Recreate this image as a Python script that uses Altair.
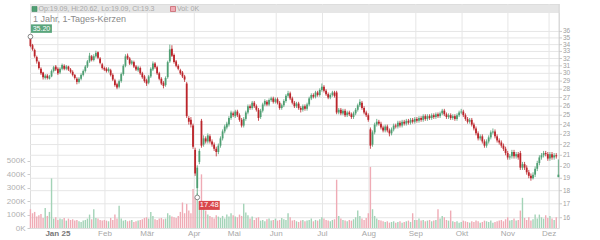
import altair as alt
import pandas as pd

# ---------------- data ----------------
open_ = [
    34.9, 33.9, 33.2, 32.2, 31.5, 30.6, 30.1, 29.4, 29.7, 29.3,
    29.6, 30.3, 30.9, 30.6, 30.1, 30.6, 31.0, 30.6, 30.9, 30.5,
    30.2, 29.8, 29.3, 28.9, 29.3, 29.8, 30.3, 30.9, 31.6, 32.3,
    31.8, 32.3, 32.9, 32.0, 31.2, 30.7, 30.6, 30.3, 30.4, 29.8,
    29.1, 28.6, 28.3, 29.0, 29.9, 31.0, 32.4, 32.0, 31.3, 31.5,
    30.9, 30.4, 30.7, 30.0, 29.6, 29.1, 28.8, 29.6, 30.5, 31.3,
    30.8, 30.0, 29.3, 28.8, 28.5, 29.5, 31.6, 33.4, 32.5, 31.6,
    31.0, 30.4, 30.1, 29.6, 28.7, 24.7, 24.5, 23.9, 21.5, 18.2,
    20.4, 24.4, 22.0, 22.6, 22.3, 22.8, 22.3, 22.0, 21.6, 21.3,
    21.9, 22.6, 23.3, 23.7, 24.0, 24.7, 25.2, 24.9, 25.4, 25.0,
    24.5, 23.9, 24.6, 25.3, 26.0, 25.8, 26.4, 26.0, 25.6, 24.8,
    25.5, 26.2, 26.5, 26.2, 26.7, 26.9, 26.5, 26.8, 26.4, 25.8,
    26.1, 26.6, 27.2, 27.5, 26.9, 26.4, 26.0, 26.3, 25.8, 25.6,
    26.0, 25.7, 26.2, 26.9, 27.3, 27.1, 27.6, 27.3, 27.9, 28.3,
    27.8, 27.4, 27.0, 27.3, 27.6, 27.6, 25.3, 25.6, 25.2, 25.5,
    25.0, 25.3, 25.1, 24.8, 25.2, 25.6, 26.1, 26.4, 25.8, 25.3,
    25.0, 23.5, 22.0, 23.2, 24.0, 24.3, 24.1, 23.7, 23.4, 23.8,
    23.4, 23.1, 23.5, 23.9, 23.8, 24.2, 23.9, 24.3, 24.1, 24.4,
    24.2, 24.5, 24.3, 24.6, 24.4, 24.7, 24.5, 24.9, 24.6, 24.9,
    24.7, 25.0, 24.8, 25.1, 24.9, 25.2, 25.5, 25.1, 24.8, 25.0,
    24.7, 24.9, 24.6, 25.0, 25.3, 25.4, 25.0, 24.6, 24.3, 24.5,
    24.0, 23.6, 23.1, 22.6, 22.8, 22.3, 21.9, 22.3, 22.7, 23.2,
    23.3, 22.8, 22.4, 22.2, 21.9, 21.6, 21.2, 20.8, 20.9, 21.3,
    20.9, 21.1, 21.2, 19.9, 20.2, 19.9, 19.5, 19.2, 19.0, 19.3,
    19.8, 20.3, 20.8, 21.0, 21.2, 21.1, 20.7, 21.1, 20.8, 21.0,
    19.09,
]
close = [
    33.8, 33.3, 32.3, 31.6, 30.7, 30.0, 29.5, 29.7, 29.4, 29.6,
    30.3, 30.8, 30.5, 30.0, 30.6, 31.1, 30.6, 30.9, 30.5, 30.2,
    29.8, 29.4, 28.9, 29.3, 29.8, 30.3, 30.9, 31.6, 32.4, 31.8,
    32.3, 32.8, 32.1, 31.4, 30.7, 30.5, 30.3, 30.6, 29.8, 29.2,
    28.5, 28.2, 29.0, 29.9, 31.0, 32.3, 32.0, 31.3, 31.6, 30.9,
    30.5, 30.8, 30.0, 29.5, 29.0, 28.7, 29.6, 30.6, 31.3, 30.8,
    30.0, 29.3, 28.7, 28.4, 29.4, 31.5, 33.3, 32.4, 31.5, 31.0,
    30.6, 30.0, 29.6, 29.2, 24.9, 24.3, 24.0, 21.8, 19.4, 19.9,
    21.4, 21.9, 22.6, 22.3, 22.9, 22.3, 22.0, 21.6, 21.3, 21.9,
    22.6, 23.3, 23.8, 24.1, 24.7, 25.3, 25.0, 25.4, 25.0, 24.5,
    23.9, 24.6, 25.3, 26.0, 25.8, 26.4, 26.0, 25.6, 24.7, 25.5,
    26.2, 26.6, 26.2, 26.7, 26.9, 26.5, 26.8, 26.4, 25.8, 26.1,
    26.6, 27.2, 27.5, 26.9, 26.4, 26.0, 26.3, 25.8, 25.6, 26.0,
    25.7, 26.2, 26.9, 27.3, 27.1, 27.6, 27.3, 27.9, 28.3, 27.8,
    27.4, 27.0, 27.3, 27.6, 27.2, 25.3, 25.6, 25.2, 25.5, 25.0,
    25.3, 25.1, 24.8, 25.2, 25.6, 26.1, 26.5, 25.8, 25.3, 25.0,
    24.5, 21.9, 23.2, 24.0, 24.3, 24.1, 23.7, 23.4, 23.8, 23.4,
    23.1, 23.5, 23.9, 23.8, 24.2, 23.9, 24.3, 24.1, 24.4, 24.2,
    24.5, 24.3, 24.6, 24.4, 24.7, 24.5, 24.9, 24.6, 24.9, 24.7,
    25.0, 24.8, 25.1, 24.9, 25.2, 25.5, 25.1, 24.8, 25.0, 24.7,
    24.9, 24.6, 25.0, 25.3, 25.4, 25.0, 24.6, 24.3, 24.5, 24.0,
    23.6, 23.1, 22.6, 22.8, 22.3, 21.9, 22.3, 22.7, 23.2, 23.3,
    22.8, 22.4, 22.2, 21.9, 21.6, 21.2, 20.8, 20.9, 21.3, 20.9,
    21.1, 20.8, 19.9, 20.2, 19.9, 19.5, 19.2, 19.0, 19.3, 19.8,
    20.3, 20.8, 21.0, 21.2, 21.1, 20.7, 21.1, 20.8, 21.0, 20.9,
    19.3,
]
high = [
    35.2, 34.1, 33.4, 32.4, 31.7, 30.8, 30.2, 29.9, 29.9, 29.8,
    30.5, 31.0, 31.1, 30.8, 30.8, 31.3, 31.2, 31.1, 31.0, 30.7,
    30.4, 29.9, 29.5, 29.5, 30.0, 30.5, 31.1, 31.8, 32.8, 32.5,
    32.6, 33.1, 33.0, 32.2, 31.4, 30.9, 30.8, 30.8, 30.6, 30.0,
    29.3, 28.8, 29.2, 30.1, 31.2, 32.6, 32.7, 32.2, 31.8, 31.7,
    31.1, 31.0, 30.9, 30.2, 29.8, 29.3, 29.8, 30.8, 31.6, 31.5,
    31.0, 30.2, 29.5, 29.0, 29.6, 31.7, 34.0, 33.9, 32.7, 31.8,
    31.2, 30.6, 30.3, 29.8, 28.9, 24.9, 24.8, 24.1, 21.7, 20.1,
    21.6, 24.6, 22.9, 22.8, 23.1, 23.0, 22.5, 22.2, 21.8, 22.1,
    22.8, 23.5, 24.0, 24.3, 24.9, 25.5, 25.4, 25.6, 25.6, 25.2,
    24.7, 24.8, 25.5, 26.2, 26.2, 26.6, 26.6, 26.2, 25.8, 25.7,
    26.4, 26.8, 26.7, 26.9, 27.1, 27.1, 27.0, 27.0, 26.6, 26.3,
    26.8, 27.4, 27.8, 27.7, 27.1, 26.6, 26.5, 26.5, 26.0, 26.2,
    26.2, 26.4, 27.1, 27.5, 27.5, 27.8, 27.8, 28.1, 28.7, 28.5,
    28.0, 27.6, 27.5, 27.8, 27.8, 27.8, 25.8, 25.8, 25.7, 25.7,
    25.5, 25.5, 25.3, 25.4, 25.8, 26.3, 26.8, 26.6, 26.0, 25.5,
    25.2, 23.7, 23.4, 24.2, 24.6, 24.5, 24.3, 23.9, 24.0, 24.0,
    23.6, 23.7, 24.1, 24.1, 24.4, 24.4, 24.5, 24.5, 24.6, 24.6,
    24.7, 24.7, 24.8, 24.8, 24.9, 24.9, 25.1, 25.1, 25.1, 25.1,
    25.2, 25.2, 25.3, 25.3, 25.4, 25.7, 25.7, 25.3, 25.2, 25.2,
    25.1, 25.1, 25.2, 25.5, 25.7, 25.6, 25.2, 24.8, 24.7, 24.7,
    24.2, 23.8, 23.3, 23.0, 23.0, 22.5, 22.5, 22.9, 23.4, 23.6,
    23.5, 23.0, 22.6, 22.4, 22.1, 21.8, 21.4, 21.1, 21.5, 21.5,
    21.3, 21.3, 21.4, 20.4, 20.4, 20.1, 19.7, 19.4, 19.5, 20.0,
    20.5, 21.0, 21.2, 21.4, 21.4, 21.3, 21.3, 21.3, 21.2, 21.2,
    20.62,
]
low = [
    33.6, 33.1, 32.1, 31.3, 30.5, 29.8, 29.2, 29.2, 29.2, 29.2,
    29.5, 30.1, 30.3, 29.8, 29.9, 30.4, 30.4, 30.4, 30.3, 30.0,
    29.6, 29.2, 28.6, 28.7, 29.1, 29.6, 30.1, 30.7, 31.4, 31.6,
    31.6, 32.1, 31.9, 31.2, 30.5, 30.3, 30.1, 30.1, 29.6, 29.0,
    28.3, 28.0, 28.1, 28.8, 29.7, 30.8, 31.8, 31.1, 31.1, 30.7,
    30.3, 30.2, 29.8, 29.3, 28.8, 28.4, 28.6, 29.4, 30.3, 30.6,
    29.8, 29.1, 28.5, 28.1, 28.3, 29.3, 31.4, 32.2, 31.3, 30.8,
    30.4, 29.8, 29.4, 28.9, 24.7, 24.0, 23.7, 21.6, 19.2, 17.48,
    20.2, 21.7, 21.8, 22.1, 22.1, 22.1, 21.8, 21.4, 20.9, 21.1,
    21.7, 22.4, 23.1, 23.5, 23.8, 24.5, 24.8, 24.7, 24.8, 24.3,
    23.7, 23.7, 24.4, 25.1, 25.6, 25.6, 25.8, 25.4, 24.4, 24.6,
    25.3, 26.0, 26.0, 26.0, 26.5, 26.3, 26.3, 26.2, 25.6, 25.6,
    25.9, 26.4, 27.0, 26.7, 26.2, 25.8, 25.8, 25.6, 25.3, 25.4,
    25.5, 25.5, 26.0, 26.7, 26.9, 26.9, 27.1, 27.1, 27.7, 27.6,
    27.2, 26.8, 26.8, 27.1, 27.0, 25.1, 25.1, 25.0, 25.0, 24.8,
    24.8, 24.9, 24.6, 24.6, 25.0, 25.4, 25.9, 25.6, 25.1, 24.8,
    24.3, 21.6, 21.8, 23.0, 23.8, 23.9, 23.5, 23.2, 23.2, 23.2,
    22.8, 22.9, 23.3, 23.6, 23.6, 23.7, 23.7, 23.9, 23.9, 24.0,
    24.0, 24.1, 24.1, 24.2, 24.2, 24.3, 24.3, 24.4, 24.4, 24.5,
    24.5, 24.6, 24.6, 24.7, 24.7, 25.0, 24.9, 24.6, 24.6, 24.5,
    24.5, 24.4, 24.4, 24.8, 25.1, 24.8, 24.4, 24.1, 24.1, 23.8,
    23.4, 22.9, 22.4, 22.4, 22.1, 21.7, 21.7, 22.1, 22.5, 23.0,
    22.6, 22.2, 22.0, 21.7, 21.4, 21.0, 20.6, 20.6, 20.7, 20.7,
    20.7, 20.6, 19.7, 19.7, 19.7, 19.3, 19.0, 18.8, 18.9, 19.1,
    19.6, 20.1, 20.6, 20.8, 20.9, 20.5, 20.5, 20.6, 20.6, 20.7,
    19.09,
]
volume_k = [
    140, 110, 120, 85, 95, 105, 75, 150, 90, 120,
    370, 70, 80, 60, 70, 65, 75, 55, 70, 60,
    65, 55, 60, 50, 45, 55, 60, 70, 100, 65,
    140, 75, 70, 60, 55, 60, 55, 50, 75, 60,
    100, 70, 165, 70, 55, 60, 50, 55, 60, 45,
    50, 55, 60, 65, 75, 80, 70, 120, 90, 65,
    60, 70, 75, 65, 70, 110, 95, 85, 80, 75,
    90, 120, 190, 110, 180, 130, 110, 290, 230, 260,
    200, 400, 150, 130, 100, 90, 80, 70, 95, 85,
    75, 90, 70, 100, 85, 110, 95, 85, 80, 100,
    90, 180, 115, 95, 70, 85, 60, 75, 80, 55,
    60, 50, 65, 70, 55, 60, 70, 55, 60, 75,
    65, 60, 110, 80, 55, 60, 50, 45, 55, 60,
    50, 55, 60, 70, 50, 60, 55, 65, 80, 70,
    60, 55, 50, 60, 65, 360, 90, 70, 60, 55,
    50, 60, 55, 65, 80, 130, 90, 70, 60, 75,
    110, 455, 140, 90, 70, 60, 55, 50, 45, 50,
    40, 45, 50, 40, 45, 50, 40, 45, 50, 55,
    45, 110, 60, 60, 70, 55, 60, 50, 55, 60,
    50, 55, 60, 140, 70, 90, 80, 60, 55, 130,
    50, 45, 50, 40, 45, 55, 50, 45, 40, 50,
    45, 55, 50, 40, 45, 55, 50, 45, 55, 40,
    45, 50, 55, 60, 50, 65, 80, 55, 60, 70,
    55, 60, 130, 225, 75, 60, 80, 55, 65, 100,
    70, 100, 80, 70, 95, 75, 90, 70, 60, 80,
    0,
]

month_labels = ["Jan 25", "Feb", "Mär", "Apr", "Mai", "Jun",
                "Jul", "Aug", "Sep", "Okt", "Nov", "Dez"]
month_pos = [13.0, 35.3, 55.3, 77.6, 96.5, 116.4,
             138.3, 160.3, 182.5, 204.4, 226.1, 245.6]
price_ticks = [16, 17, 18, 19, 20, 21, 22, 23, 24, 25, 26,
               27, 28, 29, 30, 31, 32, 33, 34, 35, 36]
volume_ticks = [0, 100000, 200000, 300000, 400000, 500000]

title_text = "1 Jahr, 1-Tages-Kerzen"
header_text = "Op:19.09, Hi:20.62, Lo:19.09, Cl:19.3"
volume_text = "Vol: 0K"

# ---------------- styling ----------------
FONT = "Liberation Sans"
UP = "#4f9f73"
DOWN = "#bb252b"
VUP = "#a3d3b7"
VDOWN = "#efabb5"
GRID = "#e6e6e6"
W, H = 529, 224
N = len(close)

df = pd.DataFrame({
    "idx": list(range(N)),
    "open": open_, "high": high, "low": low, "close": close,
    "vol": [v * 1000 for v in volume_k],
})
df["cdir"] = ["up" if c >= o else "down" for o, c in zip(open_, close)]
df["vdir"] = df["cdir"]

i_hi = high.index(max(high))
i_lo = low.index(min(low))
hi_df = pd.DataFrame({"idx": [i_hi], "price": [high[i_hi]], "label": ["%.2f" % high[i_hi]]})
lo_df = pd.DataFrame({"idx": [i_lo], "price": [low[i_lo]], "label": ["%.2f" % low[i_lo]]})
months = pd.DataFrame({"pos": month_pos, "label": month_labels})
pt_df = pd.DataFrame({"tick": price_ticks, "label": [str(t) for t in price_ticks]})
one = pd.DataFrame({"k": [0]})

xscale = alt.Scale(domain=[-0.2, N - 0.7], nice=False, zero=False, padding=0)
pscale = alt.Scale(type="log", domain=[15.3, 40.57], nice=False, zero=False, padding=0)
vscale = alt.Scale(domain=[0, 1670000], nice=False, padding=0)


def X(field):
    return alt.X(field, scale=xscale, axis=None)


def P(field):
    return alt.Y(field, scale=pscale, axis=None)


cdir_color = alt.Color("cdir:N", scale=alt.Scale(domain=["up", "down"], range=[UP, DOWN]), legend=None)
vdir_color = alt.Color("vdir:N", scale=alt.Scale(domain=["up", "down"], range=[VUP, VDOWN]), legend=None)

base = alt.Chart(df)

# grid lines
vgrid = alt.Chart(months).mark_rule(color=GRID, strokeWidth=1).encode(
    x=X("pos:Q"), y=alt.value(0), y2=alt.value(H))
hgrid = alt.Chart(pt_df).mark_rule(color=GRID, strokeWidth=1).encode(
    y=P("tick:Q"), x=alt.value(0), x2=alt.value(W))

# price axis on the right
p_domain = alt.Chart(one).mark_rule(color="#d8d8d8").encode(
    x=alt.value(W), y=alt.value(0), y2=alt.value(H))
p_ticks = alt.Chart(pt_df).mark_rule(color="#cccccc").encode(
    y=P("tick:Q"), x=alt.value(W), x2=alt.value(W + 3))
p_labels = alt.Chart(pt_df).mark_text(align="left", baseline="middle", fontSize=6.5,
                                      font=FONT, color="#a0a0a0").encode(
    y=P("tick:Q"), x=alt.value(W + 4), text="label:N")

volume = base.mark_bar(width=1.4).encode(
    x=X("idx:Q"),
    y=alt.Y("vol:Q", scale=vscale, axis=alt.Axis(
        orient="left", values=volume_ticks, grid=False, title="",
        labelExpr="format(datum.value / 1000, 'd') + 'K'",
        labelFontSize=8, labelColor="#b0b0b0", labelFont=FONT,
        tickSize=3, tickColor="#cccccc", domainColor="#dddddd", labelPadding=2)),
    color=vdir_color,
)

wick = base.mark_rule(strokeWidth=0.8).encode(
    x=X("idx:Q"), y=P("low:Q"), y2="high:Q", color=cdir_color)
body = base.mark_bar(width=1.8).encode(
    x=X("idx:Q"), y=P("open:Q"), y2="close:Q", color=cdir_color)

hi_pt = alt.Chart(hi_df).mark_point(filled=True, fill="white", stroke="#888888",
                                    strokeWidth=1, size=22, opacity=1).encode(
    x=X("idx:Q"), y=P("price:Q"))
lo_pt = alt.Chart(lo_df).mark_point(filled=True, fill="white", stroke="#888888",
                                    strokeWidth=1, size=22, opacity=1).encode(
    x=X("idx:Q"), y=P("price:Q"))
hi_box = alt.Chart(hi_df).mark_rect(width=21, height=8.5, xOffset=11, yOffset=-8,
                                    color="#5aa57c").encode(x=X("idx:Q"), y=P("price:Q"))
hi_txt = alt.Chart(hi_df).mark_text(xOffset=11, yOffset=-8, fontSize=7, font=FONT,
                                    color="white", align="center", baseline="middle").encode(
    x=X("idx:Q"), y=P("price:Q"), text="label:N")
lo_box = alt.Chart(lo_df).mark_rect(width=21, height=9, xOffset=12, yOffset=8,
                                    color="#d9474b").encode(x=X("idx:Q"), y=P("price:Q"))
lo_txt = alt.Chart(lo_df).mark_text(xOffset=12, yOffset=8, fontSize=7.5, font=FONT,
                                    color="white", align="center", baseline="middle").encode(
    x=X("idx:Q"), y=P("price:Q"), text="label:N")

# header bar and texts
header_bar = alt.Chart(one).mark_rect(color="#e6e6e6").encode(
    x=alt.value(0), x2=alt.value(530), y=alt.value(1), y2=alt.value(9))
icon_green = alt.Chart(one).mark_rect(color=UP, stroke="#3d8a5f", strokeWidth=0.6).encode(
    x=alt.value(2), x2=alt.value(7), y=alt.value(2.5), y2=alt.value(7.5))
icon_red = alt.Chart(one).mark_rect(color=VDOWN, stroke="#c0454d", strokeWidth=0.6).encode(
    x=alt.value(140.5), x2=alt.value(145.5), y=alt.value(2.5), y2=alt.value(7.5))
header_lbl = alt.Chart(pd.DataFrame({"t": [header_text]})).mark_text(
    align="left", baseline="middle", fontSize=7, font=FONT, color="#a8a8a8").encode(
    x=alt.value(8.5), y=alt.value(5.3), text="t:N")
vol_lbl = alt.Chart(pd.DataFrame({"t": [volume_text]})).mark_text(
    align="left", baseline="middle", fontSize=7, font=FONT, color="#a8a8a8").encode(
    x=alt.value(147), y=alt.value(5.3), text="t:N")
title_lbl = alt.Chart(pd.DataFrame({"t": [title_text]})).mark_text(
    align="left", baseline="middle", fontSize=9, font=FONT, color="#8a8a8a").encode(
    x=alt.value(3), y=alt.value(14.8), text="t:N")

month_year = alt.Chart(months.head(1)).mark_text(
    baseline="middle", align="center", fontSize=8, font=FONT, fontWeight="bold",
    color="#777777").encode(x=X("pos:Q"), y=alt.value(229.8), text="label:N")
month_rest = alt.Chart(months.iloc[1:]).mark_text(
    baseline="middle", align="center", fontSize=8, font=FONT, color="#a8a8a8").encode(
    x=X("pos:Q"), y=alt.value(229.8), text="label:N")

chart = alt.layer(
    vgrid, hgrid, header_bar, p_domain, p_ticks, p_labels,
    volume, wick, body, hi_pt, lo_pt, hi_box, hi_txt, lo_box, lo_txt,
    icon_green, icon_red, header_lbl, vol_lbl, title_lbl, month_year, month_rest,
).resolve_scale(y="independent", color="independent").properties(
    width=W, height=H,
    autosize=alt.AutoSizeParams(type="none"),
    padding={"left": 30, "top": 4, "right": 41, "bottom": 12},
).configure_view(strokeWidth=0).configure(background="white")

chart.save("out.html", embed_options={"renderer": "svg", "actions": False})
